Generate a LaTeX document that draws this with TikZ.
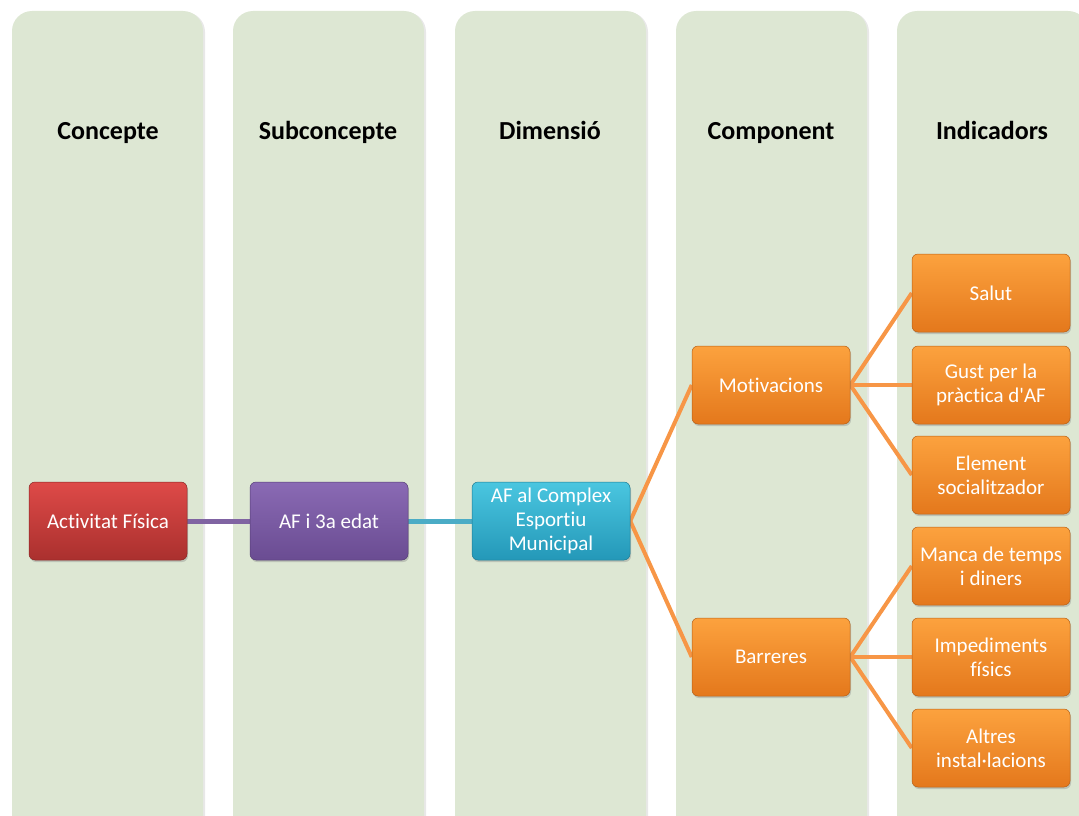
\documentclass[tikz,border=0pt]{standalone}
\usepackage{fontspec}
\setmainfont{Carlito}[Ligatures={NoCommon}]
\usetikzlibrary{shadows}
\definecolor{colbg}{RGB}{221,231,211}
\definecolor{orTop}{RGB}{252,162,62}
\definecolor{orBot}{RGB}{228,120,28}
\definecolor{orLine}{RGB}{247,150,70}
\definecolor{redTop}{RGB}{222,74,72}
\definecolor{redBot}{RGB}{170,48,46}
\definecolor{purTop}{RGB}{138,106,180}
\definecolor{purBot}{RGB}{106,76,146}
\definecolor{purLine}{RGB}{128,100,162}
\definecolor{cyTop}{RGB}{74,198,224}
\definecolor{cyBot}{RGB}{36,152,184}
\definecolor{cyLine}{RGB}{75,172,198}
\pgfdeclarelayer{bg}
\pgfdeclarelayer{links}
\pgfsetlayers{bg,links,main}
\tikzset{
  colbox/.style={fill=colbg, rounded corners=20pt, drop shadow={opacity=0.18, shadow xshift=2pt, shadow yshift=-1pt}},
  head/.style={font=\fontsize{26}{29}\selectfont\bfseries, text=black, anchor=base},
  box/.style={rounded corners=6pt, minimum width=158pt, minimum height=78pt, align=center,
     font=\fontsize{21}{24}\selectfont, text=white, inner sep=0pt,
     drop shadow={opacity=0.35, shadow xshift=1pt, shadow yshift=-2pt}},
  orbox/.style={box, top color=orTop, bottom color=orBot, draw=orBot!80!black, line width=0.5pt},
  redbox/.style={box, top color=redTop, bottom color=redBot, draw=redBot!80!black, line width=0.5pt},
  purbox/.style={box, top color=purTop, bottom color=purBot, draw=purBot!80!black, line width=0.5pt},
  cybox/.style={box, top color=cyTop, bottom color=cyBot, draw=cyBot!80!black, line width=0.5pt},
  orlink/.style={draw=orLine, line width=4pt},
}
\begin{document}
\begin{tikzpicture}[x=1pt, y=-1pt]
\useasboundingbox (0,0) rectangle (1079,816);
\begin{pgfonlayer}{bg}
\begin{scope}
\clip (0,0) rectangle (1079,816);
\foreach \x in {12,233,455,676,897} {
  \path[colbox] (\x,11) rectangle ++(191,840);
}
\end{scope}
\end{pgfonlayer}
\node[head] (h1) at (108,139) {Concepte};
\node[head] (h2) at (328,139) {Subconcepte};
\node[head] (h3) at (550,139) {Dimensió};
\node[head] (h4) at (771,139) {Component};
\node[head] (h5) at (992,139) {Indicadors};

\node[redbox] (act) at (108,521) {Activitat Física};
\node[purbox] (sub) at (329,521) {AF i 3a edat};
\node[cybox] (dim) at (551,521) {AF al Complex\\Esportiu\\Municipal};
\node[orbox] (mot) at (771,385) {Motivacions};
\node[orbox] (bar) at (771,657) {Barreres};
\node[orbox] (i1) at (991,293) {Salut};
\node[orbox] (i2) at (991,385) {Gust per la\\pràctica d\textquotesingle AF};
\node[orbox] (i3) at (991,475) {Element\\socialitzador};
\node[orbox] (i4) at (991,566) {Manca de temps\\i diners};
\node[orbox] (i5) at (991,657) {Impediments\\físics};
\node[orbox] (i6) at (991,748) {Altres\\instal·lacions};

\begin{pgfonlayer}{links}
\draw[draw=purLine, line width=5pt] (act.east) -- (sub.west);
\draw[draw=cyLine, line width=5pt] (sub.east) -- (dim.west);
\draw[orlink] (dim.east) -- (mot.west);
\draw[orlink] (dim.east) -- (bar.west);
\foreach \c in {i1,i2,i3} \draw[orlink] (mot.east) -- (\c.west);
\foreach \c in {i4,i5,i6} \draw[orlink] (bar.east) -- (\c.west);
\end{pgfonlayer}
\end{tikzpicture}
\end{document}
